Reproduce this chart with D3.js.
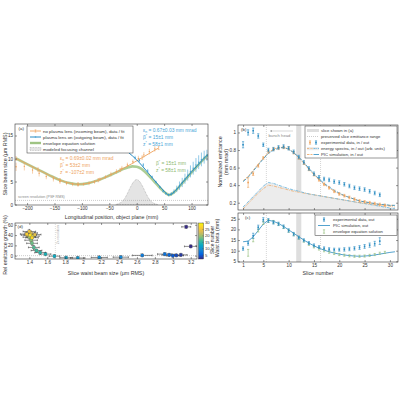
<!DOCTYPE html>
<html>
<head>
<meta charset="utf-8">
<script src="https://cdn.jsdelivr.net/npm/d3@7"></script>
<style>
body { margin: 0; background: #fff; }
svg { font-family: "Liberation Sans", Arial, sans-serif; }
</style>
</head>
<body>
<svg width="400" height="400"></svg>
<script>
// ---------- data ----------
// (a) beam size vs longitudinal position
var aTicksX = [-200, -150, -100, -50, 0, 50, 100];
var aTicksY = [0, 5, 10, 15];
var inFitZ = [-220, -200, -180, -160, -140, -120, -107, -90, -70, -50, -30, -10, 10, 30, 40];
var inFitS = [10.0, 8.8, 7.6, 6.4, 5.3, 4.6, 4.4, 4.6, 5.3, 6.3, 7.5, 8.8, 10.2, 11.6, 12.3];
var inDataZ = [-220, -205, -190, -178, -165, -152, -140, -128, -117, -107, -97, -87, -77, -67, -57, -47, -37, -27, -17, -7, 3, 13, 23, 33];
var inDataS = [8.2, 8.3, 7.5, 6.8, 6.1, 5.6, 5.0, 4.6, 4.4, 4.3, 4.4, 4.6, 4.9, 5.5, 6.0, 6.6, 7.2, 7.9, 8.6, 9.3, 10.0, 10.8, 11.5, 12.1];
var inDataE = [0.9, 0.9, 0.8, 0.7, 0.6, 0.6, 0.5, 0.4, 0.4, 0.3, 0.3, 0.4, 0.4, 0.4, 0.4, 0.5, 0.5, 0.5, 0.5, 0.5, 0.6, 0.6, 0.6, 0.6];
var outFitZ = [-15, 0, 10, 20, 30, 40, 50, 55, 58, 62, 70, 80, 90, 100, 110, 120, 130];
var outFitS = [11.3, 9.7, 8.4, 7.0, 5.6, 4.2, 2.9, 2.3, 2.1, 2.2, 2.9, 4.3, 5.7, 7.1, 8.4, 9.7, 10.9];
var outDataZ = [-3, 5, 12, 20, 28, 35, 42, 48, 53, 58, 63, 68, 73, 78, 83, 88, 93, 98, 103, 108, 113, 118, 123, 128];
var outDataS = [10.2, 9.6, 8.6, 7.3, 6.0, 4.9, 3.8, 2.9, 2.4, 2.1, 2.3, 2.8, 3.4, 4.1, 4.8, 5.6, 6.4, 7.2, 7.9, 8.6, 9.2, 9.8, 10.3, 10.7];
var outDataE = [0.4, 0.4, 0.4, 0.4, 0.3, 0.3, 0.3, 0.3, 0.3, 0.3, 0.4, 0.5, 0.7, 0.9, 1.0, 1.1, 1.2, 1.3, 1.4, 1.5, 1.5, 1.5, 1.4, 1.2];
var envZ = [-220, -200, -180, -160, -140, -120, -107, -90, -70, -50, -35, -25, -15, -8, 0, 8, 15, 25, 35, 45, 55, 58, 62, 70, 80, 90, 100, 110, 120, 130];
var envS = [10.0, 8.8, 7.6, 6.4, 5.3, 4.6, 4.4, 4.6, 5.3, 6.3, 7.1, 7.7, 8.1, 8.3, 8.2, 7.8, 7.1, 5.9, 4.6, 3.3, 2.3, 2.1, 2.2, 2.9, 4.2, 5.6, 7.0, 8.3, 9.6, 10.8];
var chanZ = [-38, -30, -24, -18, -12, -6, 0, 6, 12, 18, 24, 30, 38];
var chanS = [0, 0.3, 0.9, 2.1, 3.7, 5.0, 5.65, 5.0, 3.7, 2.1, 0.9, 0.3, 0];
var screenRes = 0.9;

// (d) emittance growth vs waist size, coloured by slice
var dTicksX = [1.4, 1.6, 1.8, 2, 2.2, 2.4, 2.6, 2.8, 3, 3.2];
var dTicksY = [0, 20, 40, 60];
var dSlice = [1, 2, 3, 4, 5, 6, 7, 8, 9, 10, 11, 12, 13, 14, 15, 16, 17, 18, 19, 20, 21, 22, 23, 24, 25, 26, 27, 28];
var dWaist = [3.15, 3.20, 3.09, 3.04, 3.00, 2.96, 2.91, 2.66, 2.42, 2.18, 1.94, 1.81, 1.68, 1.58, 1.52, 1.48, 1.45, 1.43, 1.42, 1.40, 1.44, 1.38, 1.42, 1.46, 1.40, 1.37, 1.43, 1.41];
var dGrowth = [56, 18, 1.5, 0.5, 0, 1.5, 3, 0.5, -3, -3.5, -4.5, -4, -1, 3, 6, 10, 16, 24, 30, 36, 38, 40, 44, 41, 47, 42, 35, 40];
var dWaistErr = [0.05, 0.07, 0.07, 0.08, 0.07, 0.08, 0.08, 0.11, 0.085, 0.09, 0.08, 0.07, 0.06, 0.06, 0.06, 0.06, 0.06, 0.06, 0.07, 0.07, 0.07, 0.07, 0.07, 0.07, 0.07, 0.07, 0.07, 0.07];
var dGrowthErr = [3, 3, 3, 3, 3, 3, 3, 3, 3, 3, 3, 3, 3, 3, 3, 3, 4, 4, 4, 4, 4, 4, 4, 4, 4, 4, 4, 4];
var cbTicks = [5, 10, 15, 20, 25, 30];
var resLine2x = 1.69;

// (b) normalized emittance per slice
var sliceTicks = [1, 5, 10, 15, 20, 25, 30];
var bTicksY = [0.2, 0.4, 0.6, 0.8, 1];
var sliceOut = [1, 2, 3, 4, 5, 6, 7, 8, 9, 10, 11, 12, 13, 14, 15, 16, 17, 18, 19, 20, 21, 22, 23, 24, 25, 26, 27, 28];
var emitOut = [0.86, 1.00, 1.02, 0.96, 0.86, 0.80, 0.81, 0.83, 0.84, 0.82, 0.78, 0.72, 0.66, 0.59, 0.53, 0.49, 0.47, 0.46, 0.44, 0.43, 0.41, 0.39, 0.37, 0.36, 0.35, 0.33, 0.31, 0.29];
var emitOutErr = [0.035, 0.03, 0.03, 0.025, 0.02, 0.02, 0.02, 0.02, 0.02, 0.02, 0.02, 0.02, 0.02, 0.02, 0.02, 0.02, 0.02, 0.02, 0.02, 0.02, 0.02, 0.02, 0.02, 0.02, 0.02, 0.02, 0.02, 0.02];
var sliceIn = [2, 3, 4, 5, 6, 7, 8, 9, 10, 11, 12, 13, 14, 15, 16, 17, 18, 19, 20, 21, 22, 23, 24, 25, 26, 27, 28, 29];
var emitIn = [0.43, 0.53, 0.62, 0.71, 0.78, 0.81, 0.82, 0.83, 0.82, 0.77, 0.71, 0.65, 0.58, 0.52, 0.46, 0.41, 0.37, 0.33, 0.30, 0.28, 0.26, 0.24, 0.22, 0.21, 0.20, 0.19, 0.18, 0.17];
var emitInErr = [0.055, 0.02, 0.015, 0.015, 0.015, 0.015, 0.015, 0.015, 0.015, 0.015, 0.015, 0.015, 0.015, 0.015, 0.015, 0.015, 0.015, 0.015, 0.015, 0.015, 0.015, 0.015, 0.015, 0.015, 0.015, 0.015, 0.015, 0.015];
var sliceSim = [1, 2, 3, 4, 5, 6, 7, 8, 9, 10, 11, 12, 13, 14, 15, 16, 17, 18, 19, 20, 21, 22, 23, 24, 25, 26, 27, 28, 29, 30, 31];
var picIn = [0.45, 0.50, 0.57, 0.64, 0.71, 0.77, 0.81, 0.83, 0.83, 0.81, 0.77, 0.71, 0.65, 0.58, 0.52, 0.46, 0.41, 0.37, 0.33, 0.30, 0.28, 0.26, 0.24, 0.22, 0.21, 0.20, 0.19, 0.18, 0.17, 0.17, 0.17];
var picOut = [0.44, 0.49, 0.56, 0.63, 0.70, 0.76, 0.80, 0.82, 0.83, 0.81, 0.77, 0.72, 0.66, 0.59, 0.53, 0.47, 0.42, 0.38, 0.34, 0.31, 0.28, 0.26, 0.24, 0.22, 0.21, 0.20, 0.19, 0.18, 0.18, 0.17, 0.17];
var specOut = [0.15, 0.21, 0.27, 0.33, 0.39, 0.43, 0.42, 0.40, 0.38, 0.36, 0.345, 0.33, 0.315, 0.30, 0.29, 0.28, 0.27, 0.26, 0.25, 0.24, 0.23, 0.22, 0.21, 0.20, 0.19, 0.18, 0.17, 0.16, 0.15, 0.14, 0.135];
var specIn = [0.13, 0.19, 0.25, 0.31, 0.36, 0.40, 0.39, 0.375, 0.36, 0.345, 0.33, 0.32, 0.31, 0.30, 0.29, 0.28, 0.27, 0.26, 0.25, 0.24, 0.23, 0.22, 0.21, 0.20, 0.195, 0.19, 0.18, 0.17, 0.165, 0.16, 0.15];
var shownSlice = [11.5, 12.5];
var preservedRange = [5.6, 16.3];

// (c) waist beta per slice
var cTicksY = [5, 10, 15, 20, 25];
var betaOut = [11.0, 13.5, 17.0, 21.0, 24.5, 24.2, 23.3, 22.6, 21.3, 19.5, 17.8, 16.2, 14.9, 13.6, 12.5, 11.7, 11.1, 10.7, 10.5, 10.5, 10.6, 10.8, 11.1, 11.5, 12.0, 12.6, 13.3, 14.5];
var betaOutErr = [0.8, 0.9, 1.2, 1.0, 1.0, 0.9, 0.8, 0.8, 0.8, 0.8, 0.8, 0.7, 0.7, 0.7, 0.7, 0.7, 0.7, 0.7, 0.7, 0.7, 0.8, 0.8, 0.8, 0.9, 0.9, 1.0, 1.1, 1.6];
var betaPic = [14.2, 14.5, 16.5, 19.5, 22.5, 24.3, 23.8, 22.8, 21.4, 19.8, 18.2, 16.6, 15.0, 13.6, 12.3, 11.2, 10.3, 9.5, 8.9, 8.4, 8.0, 7.7, 7.5, 7.4, 7.5, 7.7, 8.0, 8.4, 8.8, 9.2, 9.5];
var sliceEnv = [2, 3, 4, 5, 6, 7, 8, 9, 10, 11, 12, 13, 14, 15, 16, 17, 18, 19, 20, 21, 22, 23, 24, 25, 26, 27, 28, 29];
var betaEnv = [9.0, 15.0, 19.5, 23.0, 24.0, 23.5, 22.5, 21.0, 19.3, 17.6, 16.0, 14.5, 13.0, 11.8, 10.8, 10.0, 9.3, 8.7, 8.2, 7.9, 7.6, 7.4, 7.4, 7.5, 7.8, 8.2, 8.8, 9.2];
var betaEnvErr = [1.6, 0.8, 0.7, 0.7, 0.7, 0.7, 0.6, 0.6, 0.6, 0.6, 0.6, 0.5, 0.5, 0.5, 0.5, 0.5, 0.5, 0.5, 0.5, 0.5, 0.5, 0.5, 0.5, 0.5, 0.5, 0.5, 0.5, 0.5];

// ---------- styles ----------
var ORANGE = "#eea35d", BLUE = "#2a8cc2", BLUE_L = "#4aa6d8", GREEN = "#9fc483", GREEN_T = "#8cb870", GRAY = "#999", INK = "#333";
var parula = ["#352a87", "#0363e1", "#1485d4", "#06a7c6", "#38b99e", "#92bf73", "#d9ba56", "#fcce2e", "#f9fb0e"];

var svg = d3.select("svg");
svg.append("rect").attr("width", 400).attr("height", 400).attr("fill", "#fff");

function frame(x, y, xt, yt, xLab, yFmt) {
  var g = svg.append("g");
  var x0 = x.range()[0], x1 = x.range()[1], y0 = y.range()[0], y1 = y.range()[1];
  function style(a) {
    a.select(".domain").remove();
    a.selectAll("line").attr("stroke", INK).attr("stroke-width", 0.5);
    a.selectAll("text").attr("fill", INK).style("font-size", "4.6px").attr("font-family", null);
  }
  g.append("g").attr("transform", "translate(0," + y0 + ")")
    .call(d3.axisBottom(x).tickValues(xt).tickSize(-2).tickPadding(2.2).tickFormat(xLab ? d3.format("") : "")).call(style);
  g.append("g").attr("transform", "translate(0," + y1 + ")")
    .call(d3.axisTop(x).tickValues(xt).tickSize(-2).tickFormat("")).call(style);
  g.append("g").attr("transform", "translate(" + x0 + ",0)")
    .call(d3.axisLeft(y).tickValues(yt).tickSize(-2).tickPadding(2).tickFormat(yFmt || d3.format(""))).call(style);
  g.append("g").attr("transform", "translate(" + x1 + ",0)")
    .call(d3.axisRight(y).tickValues(yt).tickSize(-2).tickFormat("")).call(style);
  g.append("rect").attr("x", x0).attr("y", y1).attr("width", x1 - x0).attr("height", y0 - y1)
    .attr("fill", "none").attr("stroke", INK).attr("stroke-width", 0.6);
  return g;
}

function vbar(g, cx, ya, yb, cap, color, w) {
  g.append("line").attr("x1", cx).attr("x2", cx).attr("y1", ya).attr("y2", yb).attr("stroke", color).attr("stroke-width", w || 0.6);
  if (cap) {
    g.append("line").attr("x1", cx - cap).attr("x2", cx + cap).attr("y1", ya).attr("y2", ya).attr("stroke", color).attr("stroke-width", w || 0.6);
    g.append("line").attr("x1", cx - cap).attr("x2", cx + cap).attr("y1", yb).attr("y2", yb).attr("stroke", color).attr("stroke-width", w || 0.6);
  }
}

function label(x, y, txt, size, rot, anchor, color) {
  return svg.append("text").attr("transform", "translate(" + x + "," + y + ")" + (rot ? " rotate(-90)" : ""))
    .attr("text-anchor", anchor || "middle").attr("dy", "0.35em").attr("fill", color || INK)
    .style("font-size", size + "px").text(txt);
}

function note(g, x, y, sym, sub, rest, color) {
  var t = g.append("text").attr("x", x).attr("y", y).attr("fill", color).style("font-size", "4.9px");
  t.append("tspan").text(sym);
  var down = sub === "n";
  t.append("tspan").attr("dy", down ? 1.2 : -1.6).style("font-size", "3.4px").text(sub);
  t.append("tspan").attr("dy", down ? -1.2 : 1.6).text(" = " + rest);
}

function clip(id, x, y) {
  svg.append("clipPath").attr("id", id).append("rect")
    .attr("x", x.range()[0]).attr("y", y.range()[1])
    .attr("width", x.range()[1] - x.range()[0]).attr("height", y.range()[0] - y.range()[1]);
}

// ================= panel (a) =================
var xa = d3.scaleLinear().domain([-222, 130]).range([15, 208]);
var ya = d3.scaleLinear().domain([-0.1, 17.5]).range([205, 124]);
clip("ca", xa, ya);
var ga = svg.append("g").attr("clip-path", "url(#ca)");
var lineA = d3.line().x(function(d) { return xa(d[0]); }).y(function(d) { return ya(d[1]); }).curve(d3.curveMonotoneX);

ga.append("path").datum(d3.zip(chanZ, chanS))
  .attr("d", d3.area().x(function(d) { return xa(d[0]); }).y0(ya(0)).y1(function(d) { return ya(d[1]); }).curve(d3.curveBasis))
  .attr("fill", "#e4e4e4").attr("stroke", "#888").attr("stroke-width", 0.5).attr("stroke-dasharray", "0.8,0.8");
ga.append("line").attr("x1", xa.range()[0]).attr("x2", xa.range()[1]).attr("y1", ya(screenRes)).attr("y2", ya(screenRes))
  .attr("stroke", GRAY).attr("stroke-width", 0.5).attr("stroke-dasharray", "1,1");
ga.append("path").datum(d3.zip(envZ, envS)).attr("d", lineA).attr("fill", "none")
  .attr("stroke", GREEN).attr("stroke-width", 2.6).attr("stroke-opacity", 0.85);

inDataZ.forEach(function(z, i) {
  vbar(ga, xa(z), ya(inDataS[i] - inDataE[i]), ya(inDataS[i] + inDataE[i]), 0, ORANGE, 0.5);
  ga.append("circle").attr("cx", xa(z)).attr("cy", ya(inDataS[i])).attr("r", 0.7).attr("fill", ORANGE);
});
ga.append("path").datum(d3.zip(inFitZ, inFitS)).attr("d", lineA).attr("fill", "none").attr("stroke", ORANGE).attr("stroke-width", 0.9);
inFitZ.forEach(function(z, i) {
  if (i % 2 === 0) vbar(ga, xa(z), ya(inFitS[i] - 0.35), ya(inFitS[i] + 0.35), 0.9, ORANGE, 0.5);
});

outDataZ.forEach(function(z, i) {
  vbar(ga, xa(z), ya(outDataS[i] - outDataE[i]), ya(outDataS[i] + outDataE[i]), 0, BLUE_L, 0.6);
  ga.append("circle").attr("cx", xa(z)).attr("cy", ya(outDataS[i])).attr("r", 0.7).attr("fill", BLUE_L);
});
ga.append("path").datum(d3.zip(outFitZ, outFitS)).attr("d", lineA).attr("fill", "none").attr("stroke", BLUE).attr("stroke-width", 1);

frame(xa, ya, aTicksX, aTicksY, true);

svg.append("text").attr("x", 18).attr("y", 198).attr("fill", "#888").style("font-size", "3.6px").text("screen resolution (PSF RMS)");
note(svg, 60, 160, "ε", "n", "0.69±0.02 mm mrad", ORANGE);
note(svg, 60, 167, "β", "*", "53±2 mm", ORANGE);
note(svg, 60, 174, "z", "*", "-107±2 mm", ORANGE);
note(svg, 143, 132, "ε", "n", "0.67±0.03 mm mrad", BLUE_L);
note(svg, 143, 139, "β", "*", "15±1 mm", BLUE_L);
note(svg, 143, 146, "z", "*", "58±1 mm", BLUE_L);
note(svg, 156, 164.5, "β", "*", "15±1 mm", GREEN_T);
note(svg, 156, 171.5, "z", "*", "58±1 mm", GREEN_T);
svg.append("text").attr("x", 18.5).attr("y", 129.5).attr("fill", INK).style("font-size", "4.4px").text("(a)");

// legend (a)
var la = svg.append("g");
la.append("rect").attr("x", 27).attr("y", 126).attr("width", 106).attr("height", 27).attr("fill", "#fff").attr("stroke", INK).attr("stroke-width", 0.5);
var legA = ["no plasma lens (incoming beam), data / fit", "plasma lens on (outgoing beam), data / fit", "envelope equation solution", "modeled focusing channel"];
legA.forEach(function(t, i) {
  var yy = 131 + i * 6;
  la.append("text").attr("x", 43).attr("y", yy).attr("dy", "0.35em").attr("fill", INK).style("font-size", "4.4px").text(t);
});
la.append("line").attr("x1", 30).attr("x2", 41).attr("y1", 131).attr("y2", 131).attr("stroke", ORANGE).attr("stroke-width", 0.9);
vbar(la, 35.5, 129.8, 132.2, 0.9, ORANGE, 0.5);
la.append("line").attr("x1", 30).attr("x2", 41).attr("y1", 137).attr("y2", 137).attr("stroke", BLUE).attr("stroke-width", 1);
la.append("circle").attr("cx", 35.5).attr("cy", 137).attr("r", 0.8).attr("fill", BLUE_L);
la.append("line").attr("x1", 30).attr("x2", 41).attr("y1", 143).attr("y2", 143).attr("stroke", GREEN).attr("stroke-width", 2.4);
la.append("rect").attr("x", 30).attr("y", 147.5).attr("width", 11).attr("height", 3).attr("fill", "#e4e4e4").attr("stroke", "#888").attr("stroke-width", 0.4).attr("stroke-dasharray", "0.8,0.8");

label(111.5, 217.5, "Longitudinal position, object plane (mm)", 5.3);
label(5.5, 164, "Slice beam size (μm RMS)", 5.3, true);

// ================= panel (d) =================
var xd = d3.scaleLinear().domain([1.24, 3.27]).range([15, 197]);
var yd = d3.scaleLinear().domain([-6.5, 63.5]).range([259, 223]);
var colorD = d3.scaleLinear().domain(parula.map(function(c, i) { return 2 + i * 28 / 8; })).range(parula).clamp(true);
clip("cd", xd, yd);
var gd = svg.append("g").attr("clip-path", "url(#cd)");
gd.append("line").attr("x1", xd.range()[0]).attr("x2", xd.range()[1]).attr("y1", yd(0)).attr("y2", yd(0))
  .attr("stroke", GRAY).attr("stroke-width", 0.5).attr("stroke-dasharray", "1,1");
gd.append("line").attr("x1", xd(resLine2x)).attr("x2", xd(resLine2x)).attr("y1", yd.range()[0]).attr("y2", yd.range()[1])
  .attr("stroke", "#bbb").attr("stroke-width", 0.5).attr("stroke-dasharray", "1,1");
svg.append("text").attr("transform", "translate(" + (xd(resLine2x) + 3.2) + ",225) rotate(-90)")
  .attr("text-anchor", "end").attr("fill", "#aaa").style("font-size", "3.4px").text("2x resolution");

dSlice.forEach(function(s, i) {
  var cy = yd(dGrowth[i]);
  var xl = xd(dWaist[i] - dWaistErr[i]), xr = xd(dWaist[i] + dWaistErr[i]);
  gd.append("line").attr("x1", xl).attr("x2", xr).attr("y1", cy).attr("y2", cy).attr("stroke", "#222").attr("stroke-width", 0.5);
  gd.append("line").attr("x1", xl).attr("x2", xl).attr("y1", cy - 0.9).attr("y2", cy + 0.9).attr("stroke", "#222").attr("stroke-width", 0.5);
  gd.append("line").attr("x1", xr).attr("x2", xr).attr("y1", cy - 0.9).attr("y2", cy + 0.9).attr("stroke", "#222").attr("stroke-width", 0.5);
  vbar(gd, xd(dWaist[i]), yd(dGrowth[i] - dGrowthErr[i]), yd(dGrowth[i] + dGrowthErr[i]), 0.9, "#222", 0.5);
});
dSlice.forEach(function(s, i) {
  gd.append("rect").attr("x", xd(dWaist[i]) - 1.5).attr("y", yd(dGrowth[i]) - 1.5).attr("width", 3).attr("height", 3)
    .attr("fill", colorD(s)).attr("stroke", "#555").attr("stroke-width", 0.2);
});
frame(xd, yd, dTicksX, dTicksY, true);
svg.append("text").attr("x", 17.5).attr("y", 227.5).attr("fill", INK).style("font-size", "4.4px").text("(d)");
label(106, 273.5, "Slice waist beam size (μm RMS)", 5.3);
label(5.5, 245, "Rel emittance growth (%)", 5.3, true);

// colour bar
var cb = d3.scaleLinear().domain([2, 30]).range([259, 223]);
var grad = svg.append("defs").append("linearGradient").attr("id", "parula").attr("x1", 0).attr("y1", 1).attr("x2", 0).attr("y2", 0);
parula.forEach(function(c, i) { grad.append("stop").attr("offset", i / 8).attr("stop-color", c); });
svg.append("rect").attr("x", 198.5).attr("y", 223).attr("width", 5).attr("height", 36).attr("fill", "url(#parula)").attr("stroke", INK).attr("stroke-width", 0.4);
cbTicks.forEach(function(t) {
  svg.append("line").attr("x1", 202.5).attr("x2", 203.5).attr("y1", cb(t)).attr("y2", cb(t)).attr("stroke", INK).attr("stroke-width", 0.4);
  svg.append("text").attr("x", 205).attr("y", cb(t)).attr("dy", "0.35em").attr("fill", INK).style("font-size", "4.2px").text(t);
});
label(212, 240, "Slice number", 4.8, true);

// ================= panel (b) =================
var xb = d3.scaleLinear().domain([0, 31.6]).range([238, 398]);
var yb = d3.scaleLinear().domain([0.117, 1.085]).range([210, 125]);
var yc = d3.scaleLinear().domain([4.7, 27.7]).range([262, 213]);
clip("cb", xb, yb);
clip("cc", xb, yc);
var gb = svg.append("g").attr("clip-path", "url(#cb)");
var gc = svg.append("g").attr("clip-path", "url(#cc)");

[[gb, yb], [gc, yc]].forEach(function(p) {
  p[0].append("rect").attr("x", xb(shownSlice[0])).attr("width", xb(shownSlice[1]) - xb(shownSlice[0]))
    .attr("y", p[1].range()[1]).attr("height", p[1].range()[0] - p[1].range()[1]).attr("fill", "#dedede");
  preservedRange.forEach(function(s) {
    p[0].append("line").attr("x1", xb(s)).attr("x2", xb(s)).attr("y1", p[1].range()[0]).attr("y2", p[1].range()[1])
      .attr("stroke", "#aaa").attr("stroke-width", 0.5).attr("stroke-dasharray", "1,1");
  });
});

var lineB = function(ys) {
  return d3.line().x(function(d) { return xb(d[0]); }).y(function(d) { return ys(d[1]); });
};
gb.append("path").datum(d3.zip(sliceSim, specOut))
  .attr("d", d3.area().x(function(d) { return xb(d[0]); }).y0(yb.range()[0]).y1(function(d) { return yb(d[1]); }))
  .attr("fill", "#ececec");
gb.append("path").datum(d3.zip(sliceSim, specIn)).attr("d", lineB(yb)).attr("fill", "none").attr("stroke", ORANGE).attr("stroke-width", 0.7).attr("stroke-dasharray", "3,1,0.8,1");
gb.append("path").datum(d3.zip(sliceSim, specOut)).attr("d", lineB(yb)).attr("fill", "none").attr("stroke", BLUE_L).attr("stroke-width", 0.7).attr("stroke-dasharray", "3,1,0.8,1");
gb.append("path").datum(d3.zip(sliceSim, picIn)).attr("d", lineB(yb)).attr("fill", "none").attr("stroke", ORANGE).attr("stroke-width", 0.8).attr("stroke-dasharray", "2.5,1.2");
gb.append("path").datum(d3.zip(sliceSim, picOut)).attr("d", lineB(yb)).attr("fill", "none").attr("stroke", BLUE).attr("stroke-width", 0.8).attr("stroke-dasharray", "4,1.2");

sliceIn.forEach(function(s, i) {
  vbar(gb, xb(s), yb(emitIn[i] - emitInErr[i]), yb(emitIn[i] + emitInErr[i]), 1.1, ORANGE, 0.6);
  gb.append("rect").attr("x", xb(s) - 0.8).attr("y", yb(emitIn[i]) - 0.8).attr("width", 1.6).attr("height", 1.6).attr("fill", ORANGE);
});
sliceOut.forEach(function(s, i) {
  vbar(gb, xb(s), yb(emitOut[i] - emitOutErr[i]), yb(emitOut[i] + emitOutErr[i]), 1.1, BLUE, 0.6);
  gb.append("rect").attr("x", xb(s) - 0.8).attr("y", yb(emitOut[i]) - 0.8).attr("width", 1.6).attr("height", 1.6).attr("fill", BLUE);
});
frame(xb, yb, sliceTicks, bTicksY, false, d3.format(""));
svg.append("text").attr("x", 241).attr("y", 130.5).attr("fill", INK).style("font-size", "4.4px").text("(b)");

// bunch head arrow
svg.append("line").attr("x1", 293).attr("x2", 270).attr("y1", 131).attr("y2", 131).attr("stroke", "#999").attr("stroke-width", 0.4);
svg.append("path").attr("d", "M270,131 l2,-0.9 l0,1.8 z").attr("fill", "#999");
svg.append("text").attr("x", 268.5).attr("y", 135.5).attr("dy", "0.35em").attr("fill", "#888").style("font-size", "4.2px").text("bunch head");

// legend (b)
var lb = svg.append("g");
lb.append("rect").attr("x", 305).attr("y", 126).attr("width", 92).attr("height", 32).attr("fill", "#fff").attr("stroke", INK).attr("stroke-width", 0.5);
var legB = ["slice shown in (a)", "preserved slice emittance range", "experimental data, in / out", "energy spectra, in / out (arb. units)", "PIC simulation, in / out"];
legB.forEach(function(t, i) {
  lb.append("text").attr("x", 321).attr("y", 130.5 + i * 6).attr("dy", "0.35em").attr("fill", INK).style("font-size", "4.2px").text(t);
});
lb.append("rect").attr("x", 307).attr("y", 129).attr("width", 12).attr("height", 3).attr("fill", "#dedede");
lb.append("line").attr("x1", 307).attr("x2", 319).attr("y1", 136.5).attr("y2", 136.5).attr("stroke", "#999").attr("stroke-width", 0.5).attr("stroke-dasharray", "1,1");
vbar(lb, 310, 140.8, 144.2, 1.1, ORANGE, 0.6);
lb.append("rect").attr("x", 309.2).attr("y", 141.7).attr("width", 1.6).attr("height", 1.6).attr("fill", ORANGE);
vbar(lb, 316, 140.8, 144.2, 1.1, BLUE, 0.6);
lb.append("rect").attr("x", 315.2).attr("y", 141.7).attr("width", 1.6).attr("height", 1.6).attr("fill", BLUE);
lb.append("rect").attr("x", 307).attr("y", 147).attr("width", 12).attr("height", 3.2).attr("fill", "#ececec");
lb.append("line").attr("x1", 307).attr("x2", 312.5).attr("y1", 148.5).attr("y2", 148.5).attr("stroke", ORANGE).attr("stroke-width", 0.7).attr("stroke-dasharray", "2,0.8,0.7,0.8");
lb.append("line").attr("x1", 313.5).attr("x2", 319).attr("y1", 148.5).attr("y2", 148.5).attr("stroke", BLUE_L).attr("stroke-width", 0.7).attr("stroke-dasharray", "2,0.8,0.7,0.8");
lb.append("line").attr("x1", 307).attr("x2", 312.5).attr("y1", 154.5).attr("y2", 154.5).attr("stroke", ORANGE).attr("stroke-width", 0.8).attr("stroke-dasharray", "2.5,1");
lb.append("line").attr("x1", 313.5).attr("x2", 319).attr("y1", 154.5).attr("y2", 154.5).attr("stroke", BLUE).attr("stroke-width", 0.8);

label(220, 162, "Normalized emittance", 5.3, true);
label(226.3, 162, "(mm mrad)", 5.3, true);

// ================= panel (c) =================
gc.append("path").datum(d3.zip(sliceSim, betaPic)).attr("d", lineB(yc)).attr("fill", "none").attr("stroke", BLUE).attr("stroke-width", 0.8);
sliceEnv.forEach(function(s, i) {
  vbar(gc, xb(s), yc(betaEnv[i] - betaEnvErr[i]), yc(betaEnv[i] + betaEnvErr[i]), 1.1, GREEN_T, 0.6);
});
sliceOut.forEach(function(s, i) {
  vbar(gc, xb(s), yc(betaOut[i] - betaOutErr[i]), yc(betaOut[i] + betaOutErr[i]), 1.1, BLUE, 0.6);
  gc.append("rect").attr("x", xb(s) - 0.8).attr("y", yc(betaOut[i]) - 0.8).attr("width", 1.6).attr("height", 1.6).attr("fill", BLUE);
});
frame(xb, yc, sliceTicks, cTicksY, true);
svg.append("text").attr("x", 245).attr("y", 218.5).attr("fill", INK).style("font-size", "4.4px").text("(c)");

var lc = svg.append("g");
lc.append("rect").attr("x", 315).attr("y", 215).attr("width", 82).attr("height", 20.5).attr("fill", "#fff").attr("stroke", INK).attr("stroke-width", 0.5);
["experimental data, out", "PIC simulation, out", "envelope equation solution"].forEach(function(t, i) {
  lc.append("text").attr("x", 333).attr("y", 219.5 + i * 6).attr("dy", "0.35em").attr("fill", INK).style("font-size", "4.2px").text(t);
});
vbar(lc, 324, 217.8, 221.2, 1.1, BLUE, 0.6);
lc.append("rect").attr("x", 323.2).attr("y", 218.7).attr("width", 1.6).attr("height", 1.6).attr("fill", BLUE);
lc.append("line").attr("x1", 318).attr("x2", 330).attr("y1", 225.5).attr("y2", 225.5).attr("stroke", BLUE).attr("stroke-width", 0.8);
vbar(lc, 324, 229.8, 233.2, 1.1, GREEN_T, 0.6);

label(318, 273.5, "Slice number", 5.3);
label(217.5, 238, "Waist beta (mm)", 5.3, true);
</script>
</body>
</html>
